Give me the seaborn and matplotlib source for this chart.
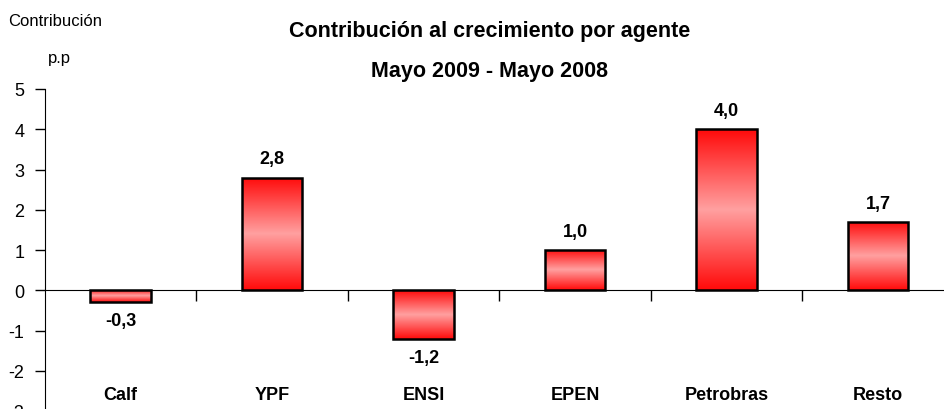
import numpy as np
import pandas as pd
import matplotlib
matplotlib.use("Agg")
import matplotlib.pyplot as plt
import seaborn as sns
from matplotlib.colors import LinearSegmentedColormap

agentes = ["Calf", "YPF", "ENSI", "EPEN", "Petrobras", "Resto"]
contribucion = [-0.3, 2.8, -1.2, 1.0, 4.0, 1.7]
y_ticks = [-3, -2, -1, 0, 1, 2, 3, 4, 5]

df = pd.DataFrame({"agente": agentes, "valor": contribucion})

sns.set_style("white")
plt.rcParams["font.family"] = ["Liberation Sans", "DejaVu Sans"]
plt.rcParams["text.color"] = "black"
plt.rcParams["xtick.color"] = "black"
plt.rcParams["ytick.color"] = "black"

fig = plt.figure(figsize=(9.45, 4.1), dpi=100)
ax = fig.add_axes([45 / 945, -2 / 410, 908.6 / 945, 322 / 410])

sns.barplot(data=df, x="agente", y="valor", order=agentes, color="red",
            width=0.4, edgecolor="black", linewidth=1.8, ax=ax)

# gradient fill: red at top and bottom, pink in the middle
cmap = LinearSegmentedColormap.from_list("g", ["#ff0a0a", "#ffa0a0", "#ff0a0a"])
grad = np.linspace(0, 1, 256).reshape(-1, 1)
for p in ax.patches:
    x0, y0 = p.get_x(), p.get_y()
    w, h = p.get_width(), p.get_height()
    im = ax.imshow(grad, cmap=cmap, aspect="auto", extent=[x0, x0 + w, y0, y0 + h],
                   zorder=2, interpolation="bilinear")
    im.set_clip_path(p)
    p.set_facecolor("none")
    p.set_zorder(3)

ax.set_xlim(-0.5, 5.5)
ax.set_ylim(-3, 5)
ax.set_yticks(y_ticks)
ax.set_yticklabels([str(t) for t in y_ticks], fontsize=13)
ax.tick_params(axis="y", direction="out", length=7, width=1, pad=8, left=True)

ax.spines["top"].set_visible(False)
ax.spines["right"].set_visible(False)
ax.spines["left"].set_color("black")
ax.spines["bottom"].set_position(("data", 0))
ax.spines["bottom"].set_color("black")
ax.set_xticks(np.arange(0.5, 5.5, 1))
ax.set_xticklabels([])
ax.tick_params(axis="x", direction="out", length=8, width=1, bottom=True)
ax.set_xlabel("")
ax.set_ylabel("")

for i, (a, v) in enumerate(zip(agentes, contribucion)):
    txt = f"{v:.1f}".replace(".", ",")
    if v >= 0:
        ax.text(i, v + 0.25, txt, ha="center", va="bottom", fontsize=13, fontweight="bold")
    else:
        ax.text(i, v - 0.25, txt, ha="center", va="top", fontsize=13, fontweight="bold")
    ax.text(i, -2.58, a, ha="center", va="center", fontsize=13, fontweight="bold")

fig.text(490 / 945, 1 - 32 / 410, "Contribución al crecimiento por agente",
         ha="center", va="center", fontsize=15.5, fontweight="bold")
fig.text(490 / 945, 1 - 72 / 410, "Mayo 2009 - Mayo 2008",
         ha="center", va="center", fontsize=15.5, fontweight="bold")
fig.text(8 / 945, 1 - 22 / 410, "Contribución", ha="left", va="center", fontsize=12)
fig.text(48 / 945, 1 - 58 / 410, "p.p", ha="left", va="center", fontsize=12)

fig.savefig("out.png", dpi=100)
